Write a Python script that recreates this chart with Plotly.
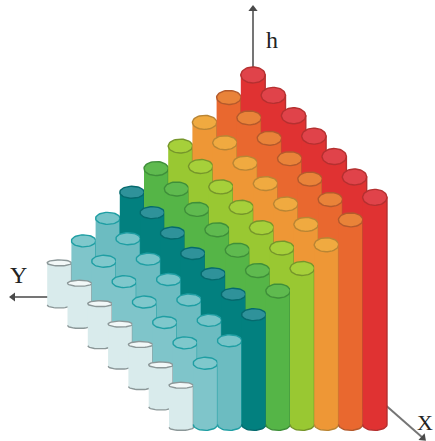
import numpy as np
import plotly.graph_objects as go

# one column per colour band, white band first, red band last
band_heights = [1.65, 2.58, 3.53, 4.63, 5.63, 6.58, 7.58, 8.63, 9.58]
body_colors = ['#d9ebec', '#7fc5ca', '#6cbcc1', '#02807f', '#55b547', '#99c832', '#ee9736', '#e9682f', '#e03232']
top_colors = ['#f2f8f8', '#7fc8cc', '#76c4c8', '#2f929a', '#5fba4f', '#a6d03a', '#f0aa40', '#e98339', '#e0434a']
edge_colors = ['#8b9798', '#1f9ea3', '#1f9ea3', '#056a6e', '#3f8f3a', '#76962b', '#b98534', '#b45a2c', '#b53030']
top_ry = [3, 6, 6, 6, 7, 7, 7, 7, 8]
bottom_ry = [3, 6, 6, 6, 6, 6, 6, 6, 6]
row_index = [0, 1, 2, 3, 4, 5, 6]  # 0 is the back row

# picture scale
ox, oy = 253, 302
row_dx, row_dy = 20.3, 20.4
band_dx = 24.2
unit_h = 23.7
rx, ry = 12.2, 6


def project(row, band, h):
    y_idx = len(band_heights) - 1 - band
    return ox + row_dx * row - band_dx * y_idx, oy + row_dy * row - unit_h * h


fig = go.Figure()


def arrow(xs, ys, angle):
    fig.add_trace(go.Scatter(x=xs, y=ys, mode='lines', line=dict(color='#757575', width=2), hoverinfo='skip'))
    fig.add_trace(go.Scatter(x=[xs[-1]], y=[ys[-1]], mode='markers', hoverinfo='skip',
                             marker=dict(symbol='triangle-up', size=8, color='#4a4a4a', angle=angle)))


# axes go behind the bars
arrow([253, 253], [70, 9], 0)
arrow([60, 13], [297, 297], -90)
arrow([253, 423], [289, 438], 132)

t_front = np.linspace(0, np.pi, 24)
t_full = np.linspace(0, 2 * np.pi, 48)

for row in row_index:
    for band, h in enumerate(band_heights):
        cx, top = project(row, band, h)
        _, base = project(row, band, 0)
        low_ry = bottom_ry[band]
        # body outline: round the bottom, then straight back across the top
        bx = np.concatenate([cx - rx * np.cos(t_front), [cx + rx, cx - rx]])
        by = np.concatenate([base + ry - low_ry + low_ry * np.sin(t_front), [top, top]])
        fig.add_trace(go.Scatter(x=bx, y=by, mode='lines', fill='toself', fillcolor=body_colors[band],
                                 line=dict(color=edge_colors[band], width=1.4), hoverinfo='skip'))
        fig.add_trace(go.Scatter(x=cx + rx * np.cos(t_full), y=top + top_ry[band] * np.sin(t_full), mode='lines',
                                 fill='toself', fillcolor=top_colors[band],
                                 line=dict(color=edge_colors[band], width=1.4), hoverinfo='skip'))

for text, x, y, size in [('h', 272, 40, 24), ('Y', 18, 275, 24), ('X', 425, 422, 22)]:
    fig.add_annotation(x=x, y=y, text=text, showarrow=False,
                       font=dict(family='Liberation Serif', size=size, color='#222222'))

fig.update_layout(width=435, height=441, margin=dict(l=0, r=0, t=0, b=0), showlegend=False,
                  paper_bgcolor='white', plot_bgcolor='white')
fig.update_xaxes(range=[0, 435], visible=False)
fig.update_yaxes(range=[441, 0], visible=False)
# the browser's default body margin would push the figure 8px in
fig.write_html("out.html", config={'displayModeBar': False}, post_script="document.body.style.margin='0';")
